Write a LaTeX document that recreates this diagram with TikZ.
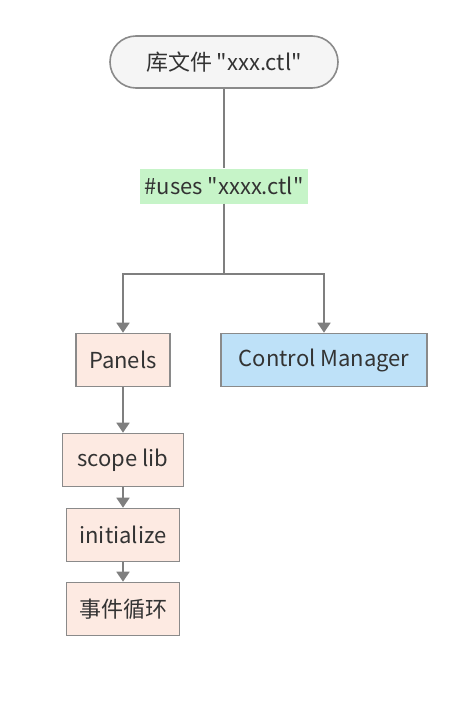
\documentclass[tikz,border=0pt]{standalone}
\usepackage{fontspec}
\setmainfont{Noto Sans CJK SC}
\usetikzlibrary{arrows.meta}
\definecolor{linegray}{HTML}{7F7F7F}
\definecolor{boxborder}{HTML}{8A8A8A}
\definecolor{topfill}{HTML}{F5F5F5}
\definecolor{lblfill}{HTML}{C6F4C8}
\definecolor{peach}{HTML}{FDEAE2}
\definecolor{skyblue}{HTML}{BEE1F8}
\definecolor{txt}{HTML}{333333}
\newcommand{\dq}{\textquotedbl}
\begin{document}
\begin{tikzpicture}[x=1pt,y=-1pt,
  every node/.style={font=\fontsize{22}{26}\selectfont, text=txt, inner sep=0pt},
  boxnode/.style={draw=boxborder, line width=1.6pt, minimum height=53pt},
  conn/.style={draw=linegray, line width=1.8pt},
  arr/.style={conn, -{Triangle[width=13pt,length=10pt]}}]
\useasboundingbox (0,0) rectangle (476,707);
\node[draw=boxborder, line width=1.6pt, fill=topfill, rounded corners=26pt,
      minimum width=228pt, minimum height=52pt] (top) at (224,62) {库文件 \dq xxx.ctl\dq};
\coordinate (split) at (224,274);
\node[fill=lblfill, minimum width=168pt, minimum height=35pt] (lbl) at (224,186) {\#uses \dq xxxx.ctl\dq};
\node[boxnode, fill=peach, minimum width=94pt] (panels) at (123,360) {Panels};
\node[boxnode, fill=skyblue, minimum width=206pt] (cm) at (324,360) {Control Manager};
\node[boxnode, fill=peach, minimum width=121pt] (scope) at (123,460) {scope lib};
\node[boxnode, fill=peach, minimum width=113pt] (init) at (123,535) {initialize};
\node[boxnode, fill=peach, minimum width=113pt] (loop) at (123,609) {事件循环};
\draw[conn] (top) -- (lbl);
\draw[conn] (lbl) -- (split);
\draw[arr] (split) -| (panels);
\draw[arr] (split) -| (cm);
\draw[arr] (panels) -- (scope);
\draw[arr] (scope) -- (init);
\draw[arr] (init) -- (loop);
\end{tikzpicture}
\end{document}
